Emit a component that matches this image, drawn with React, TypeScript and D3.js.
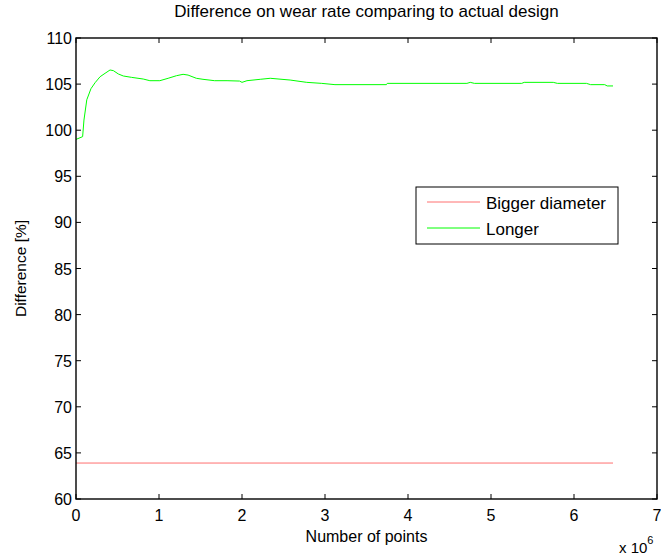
import React from "react";
import * as d3 from "d3";

// Number of points (×10^6) and wear-rate difference [%] for the longer design
const longerX = [0, 0.08, 0.096, 0.13, 0.18, 0.23, 0.29, 0.35, 0.41, 0.45, 0.51, 0.57, 0.67, 0.81, 0.89, 1.01, 1.11, 1.21, 1.29, 1.35, 1.45, 1.53, 1.67, 1.82, 1.97, 2.0, 2.06, 2.22, 2.34, 2.58, 2.78, 2.96, 3.12, 3.74, 3.75, 4.71, 4.75, 4.8, 5.37, 5.4, 5.75, 5.8, 6.15, 6.2, 6.37, 6.4, 6.47];
const longerY = [99.0, 99.3, 101.1, 103.3, 104.5, 105.15, 105.8, 106.17, 106.53, 106.46, 106.1, 105.88, 105.73, 105.55, 105.37, 105.37, 105.63, 105.91, 106.06, 105.98, 105.63, 105.52, 105.37, 105.37, 105.33, 105.19, 105.37, 105.52, 105.63, 105.44, 105.19, 105.08, 104.94, 104.94, 105.08, 105.08, 105.19, 105.08, 105.08, 105.19, 105.19, 105.08, 105.08, 104.94, 104.94, 104.8, 104.8];

// Bigger diameter stays constant over the run
const biggerX = [0, 6.47];
const biggerY = [63.9, 63.9];

const xTicks = [0, 1, 2, 3, 4, 5, 6, 7];
const yTicks = [60, 65, 70, 75, 80, 85, 90, 95, 100, 105, 110];

const seriesNames = ["Bigger diameter", "Longer"];
const seriesColors = ["#ff7070", "#00ff00"];

const W = 661;
const H = 556;
const left = 76;
const right = 657;
const top = 38;
const bottom = 499;
const font = "'Liberation Sans', Arial, sans-serif";

export default function App() {
  const x = d3.scaleLinear().domain([0, 7]).range([left, right]);
  const y = d3.scaleLinear().domain([60, 110]).range([bottom, top]);
  const line = d3
    .line<[number, number]>()
    .x((d) => x(d[0]))
    .y((d) => y(d[1]));

  const greenPts = longerX.map((v, i) => [v, longerY[i]] as [number, number]);
  const redPts = biggerX.map((v, i) => [v, biggerY[i]] as [number, number]);
  const tl = 5;

  return (
    <svg
      width={W}
      height={H}
      style={{ position: "absolute", left: 0, top: 0, background: "#fff" }}
      fontFamily={font}
    >
      <rect x={0} y={0} width={W} height={H} fill="#fff" />
      <path d={line(redPts) || ""} fill="none" stroke={seriesColors[0]} strokeWidth={1} />
      <path d={line(greenPts) || ""} fill="none" stroke={seriesColors[1]} strokeWidth={1} />

      {/* axis box */}
      <rect x={left} y={top} width={right - left} height={bottom - top} fill="none" stroke="#000" strokeWidth={1.4} />

      {xTicks.map((t) => (
        <g key={"x" + t}>
          <line x1={x(t)} x2={x(t)} y1={bottom} y2={bottom - tl} stroke="#000" />
          <line x1={x(t)} x2={x(t)} y1={top} y2={top + tl} stroke="#000" />
          <text x={x(t)} y={bottom + 22} textAnchor="middle" fontSize={16}>
            {t}
          </text>
        </g>
      ))}
      {yTicks.map((t) => (
        <g key={"y" + t}>
          <line x1={left} x2={left + tl} y1={y(t)} y2={y(t)} stroke="#000" />
          <line x1={right} x2={right - tl} y1={y(t)} y2={y(t)} stroke="#000" />
          <text x={left - 4} y={y(t) + 6} textAnchor="end" fontSize={16}>
            {t}
          </text>
        </g>
      ))}

      <text x={(left + right) / 2} y={17} textAnchor="middle" fontSize={17}>
        Difference on wear rate comparing to actual design
      </text>
      <text x={(left + right) / 2} y={542} textAnchor="middle" fontSize={16}>
        Number of points
      </text>
      <text
        transform={`translate(26,${(top + bottom) / 2}) rotate(-90)`}
        textAnchor="middle"
        fontSize={15.5}
      >
        Difference [%]
      </text>
      <text x={619} y={553} fontSize={15}>
        x 10
        <tspan dy={-9} fontSize={11}>
          6
        </tspan>
      </text>

      {/* legend */}
      <rect x={416} y={187} width={202} height={57} fill="#fff" stroke="#000" strokeWidth={1} />
      {seriesNames.map((n, i) => (
        <g key={n}>
          <line x1={427} x2={480} y1={202 + i * 26} y2={202 + i * 26} stroke={seriesColors[i]} strokeWidth={1} />
          <text x={486} y={209 + i * 26} fontSize={17}>
            {n}
          </text>
        </g>
      ))}
    </svg>
  );
}
